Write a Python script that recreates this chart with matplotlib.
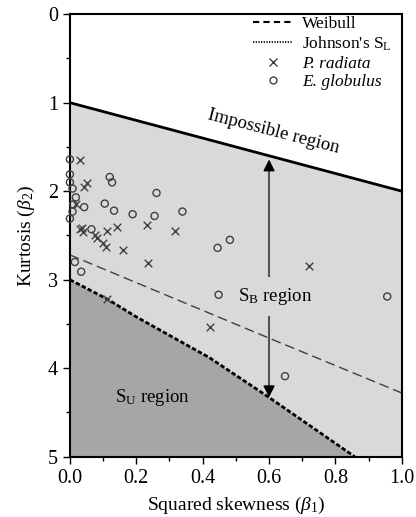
import numpy as np
import matplotlib
matplotlib.use('Agg')
import matplotlib.pyplot as plt
from matplotlib.lines import Line2D

plt.rcParams['font.family'] = ['Liberation Serif', 'DejaVu Serif']
plt.rcParams['mathtext.fontset'] = 'custom'
plt.rcParams['mathtext.rm'] = 'Liberation Serif'
plt.rcParams['mathtext.it'] = 'Liberation Serif:italic'

# ── data ──────────────────────────────────────
# P. radiata (crosses)
radiata_b1 = [0.030, 0.042, 0.052, 0.018, 0.030, 0.038, 0.035, 0.113, 0.141,
              0.076, 0.083, 0.100, 0.110, 0.159, 0.233, 0.316, 0.234, 0.113,
              0.422, 0.721]
radiata_b2 = [1.65, 1.95, 1.91, 2.14, 2.43, 2.46, 2.42, 2.45, 2.41,
              2.50, 2.53, 2.59, 2.63, 2.66, 2.38, 2.45, 2.81, 3.22,
              3.54, 2.84]

# E. globulus (circles)
globulus_b1 = [0.000, 0.000, 0.000, 0.008, 0.018, 0.010, 0.008, 0.000, 0.043,
               0.120, 0.127, 0.105, 0.133, 0.189, 0.261, 0.255, 0.339, 0.065,
               0.015, 0.034, 0.445, 0.482, 0.448, 0.956, 0.648]
globulus_b2 = [1.64, 1.81, 1.90, 1.97, 2.07, 2.15, 2.23, 2.31, 2.18,
               1.84, 1.90, 2.14, 2.22, 2.26, 2.02, 2.28, 2.23, 2.43,
               2.80, 2.91, 2.64, 2.55, 3.17, 3.19, 4.09]

# boundary / distribution lines
impossible_b1 = [0.0, 1.0]
impossible_b2 = [1.0, 2.0]
johnson_sl_b1 = [0.0, 0.113, 0.2, 0.42, 0.6, 0.858]
johnson_sl_b2 = [3.0, 3.22, 3.42, 3.88, 4.33, 5.0]
weibull_b1 = [0.0, 0.6, 1.0]
weibull_b2 = [2.72, 3.66, 4.28]

LIGHT = '#d9d9d9'
DARK = '#a6a6a6'
MARK = '#404040'

fig = plt.figure(figsize=(4.16, 5.17), dpi=100)
ax = fig.add_axes([0.168, 0.1166, 0.798, 0.856])

ax.set_xlim(0, 1.0)
ax.set_ylim(5, 0)

# regions
ax.fill_between(impossible_b1, impossible_b2, 5, color=LIGHT, lw=0, zorder=0)
ax.fill_between(johnson_sl_b1, johnson_sl_b2, 5, color=DARK, lw=0, zorder=1)

# lines
ax.plot(impossible_b1, impossible_b2, color='black', lw=2, zorder=2)
ax.plot(johnson_sl_b1, johnson_sl_b2, color='black', lw=2,
        dashes=(1.6, 0.8), zorder=2)
ax.plot(weibull_b1, weibull_b2, color=MARK, lw=1, dashes=(7, 3.5), zorder=2)

# points
ax.scatter(radiata_b1, radiata_b2, marker='x', s=30, color=MARK,
           linewidths=1, zorder=4, clip_on=False)
ax.scatter(globulus_b1, globulus_b2, marker='o', s=26, facecolors='none',
           edgecolors=MARK, linewidths=1, zorder=4, clip_on=False)

# S_B arrow
ax.plot([0.6, 0.6], [1.75, 2.96], color='#555555', lw=1.5, zorder=3)
ax.plot([0.6, 0.6], [3.42, 4.22], color='#555555', lw=1.5, zorder=3)
ax.annotate('', xy=(0.6, 1.61), xytext=(0.6, 1.80),
            arrowprops=dict(arrowstyle='-|>,head_length=0.7,head_width=0.35',
                            color='black', lw=1), zorder=3)
ax.annotate('', xy=(0.6, 4.36), xytext=(0.6, 4.17),
            arrowprops=dict(arrowstyle='-|>,head_length=0.7,head_width=0.35',
                            color='black', lw=1), zorder=3)

ax.text(0.617, 3.19, 'S$_\\mathrm{B}$ region', fontsize=13.5,
        ha='center', va='center', zorder=5)
ax.text(0.25, 4.33, 'S$_\\mathrm{U}$ region', fontsize=13.5,
        ha='center', va='center', zorder=5)
ax.text(0.612, 1.33, 'Impossible region', fontsize=13.5, rotation=-14.5,
        rotation_mode='anchor', ha='center', va='center', zorder=5)

# axes styling
ax.set_xticks(np.arange(0, 1.01, 0.2))
ax.set_xticklabels([f'{v:.1f}' for v in np.arange(0, 1.01, 0.2)])
ax.set_xticks(np.arange(0, 1.01, 0.1), minor=True)
ax.set_yticks(range(0, 6))
ax.set_yticks(np.arange(0, 5.01, 0.5), minor=True)
ax.tick_params(which='both', direction='out', labelsize=14.5, width=1,
               top=False, right=False)
ax.tick_params(which='major', length=5)
ax.tick_params(which='minor', length=3)
for sp in ax.spines.values():
    sp.set_linewidth(1.5)

ax.set_xlabel('Squared skewness ($\\beta_1$)', fontsize=14, labelpad=5)
ax.set_ylabel('Kurtosis ($\\beta_2$)', fontsize=14, labelpad=8)

handles = [
    Line2D([], [], color='black', lw=1.5, dashes=(3, 2)),
    Line2D([], [], color='black', lw=1.2, dashes=(0.8, 0.8)),
    Line2D([], [], color=MARK, lw=0, marker='x', markersize=6, mew=1),
    Line2D([], [], color=MARK, lw=0, marker='o', markersize=5, mfc='none', mew=1),
]
labels = ['Weibull', "Johnson's S$_\\mathrm{L}$", 'P. radiata', 'E. globulus']
leg = ax.legend(handles, labels, loc='upper right', bbox_to_anchor=(1.0, 1.02),
                frameon=False, fontsize=12.5, handlelength=2.3,
                labelspacing=0.15, handletextpad=0.5, borderaxespad=0.2)
for t in leg.get_texts()[2:]:
    t.set_fontstyle('italic')

fig.savefig('out.png', dpi=100)
